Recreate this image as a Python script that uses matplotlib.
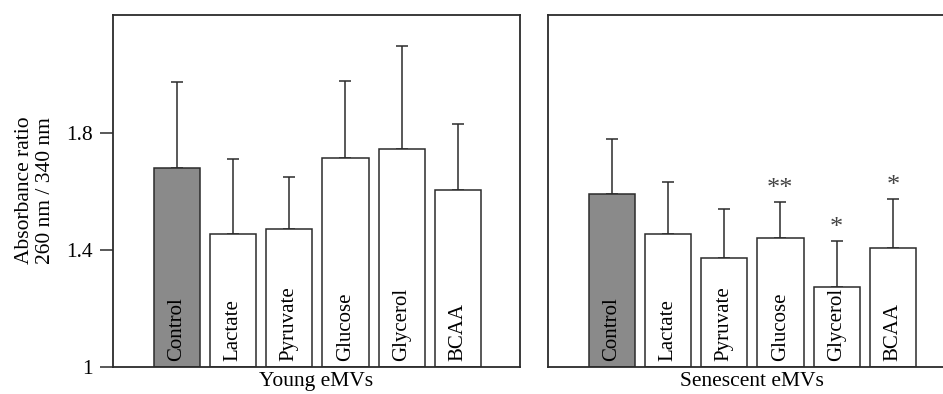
import matplotlib
matplotlib.use("Agg")
import matplotlib.pyplot as plt

# Data
groups = ["Control", "Lactate", "Pyruvate", "Glucose", "Glycerol", "BCAA"]
panel_titles = ["Young eMVs", "Senescent eMVs"]

young_mean = [1.680, 1.455, 1.472, 1.714, 1.744, 1.605]
young_err = [0.295, 0.256, 0.179, 0.265, 0.355, 0.226]

senescent_mean = [1.592, 1.455, 1.373, 1.442, 1.274, 1.408]
senescent_err = [0.189, 0.179, 0.166, 0.123, 0.156, 0.166]
senescent_marks = ["", "", "", "**", "*", "*"]

yticks = [1.0, 1.4, 1.8]
ytick_labels = ["1", "1.4", "1.8"]

plt.rcParams["font.family"] = ["Liberation Serif", "DejaVu Serif"]
plt.rcParams["font.size"] = 15

EDGE = "#2b2b2b"
GREY = "#8a8a8a"

fig = plt.figure(figsize=(9.43, 3.94), dpi=100)
ax_l = fig.add_axes([0.1198, 0.0693, 0.4316, 0.8926])
ax_r = fig.add_axes([0.5811, 0.0693, 0.4316, 0.8926])


def draw_panel(ax, means, errs, title, marks=None):
    x = list(range(len(groups)))
    colors = [GREY] + ["white"] * (len(groups) - 1)
    ax.bar(x, [m - 1 for m in means], bottom=1, width=0.82, color=colors,
           edgecolor=EDGE, linewidth=1.1, zorder=2)
    ax.errorbar(x, means, yerr=[[0] * len(errs), errs], fmt="none",
                ecolor=EDGE, elinewidth=1.1, capsize=4.3, capthick=1.1, zorder=1)
    for i, name in enumerate(groups):
        ax.annotate(name, (i, 1), xytext=(0, 4), textcoords="offset points",
                    rotation=90, ha="center", va="bottom", fontsize=15, zorder=3)
    if marks:
        for i, mk in enumerate(marks):
            if mk:
                ax.annotate(mk, (i, means[i] + errs[i]), xytext=(0, 1.5),
                            textcoords="offset points", ha="center", va="bottom",
                            fontsize=19, color="#444444")
    ax.set_xlim(-1.13, 6.1)
    ax.set_ylim(1.0, 2.204)
    ax.set_xticks([])
    for sp in ax.spines.values():
        sp.set_color(EDGE)
        sp.set_linewidth(1.3)
    ax.annotate(title, (0.5, 0), xycoords="axes fraction", xytext=(0, -4),
                textcoords="offset points", ha="center", va="top", fontsize=15.5)


draw_panel(ax_l, young_mean, young_err, panel_titles[0])
draw_panel(ax_r, senescent_mean, senescent_err, panel_titles[1], senescent_marks)

ax_l.set_yticks(yticks)
ax_l.set_yticklabels(ytick_labels)
ax_l.tick_params(axis="y", length=9.4, width=1.1, color=EDGE, pad=5, labelsize=15.5)
ax_r.set_yticks([])

fig.text(0.037, 0.5165, "Absorbance ratio\n260 nm / 340 nm", rotation=90,
         ha="center", va="center", fontsize=15.5, linespacing=1.15)

fig.savefig("out.png", dpi=100)
